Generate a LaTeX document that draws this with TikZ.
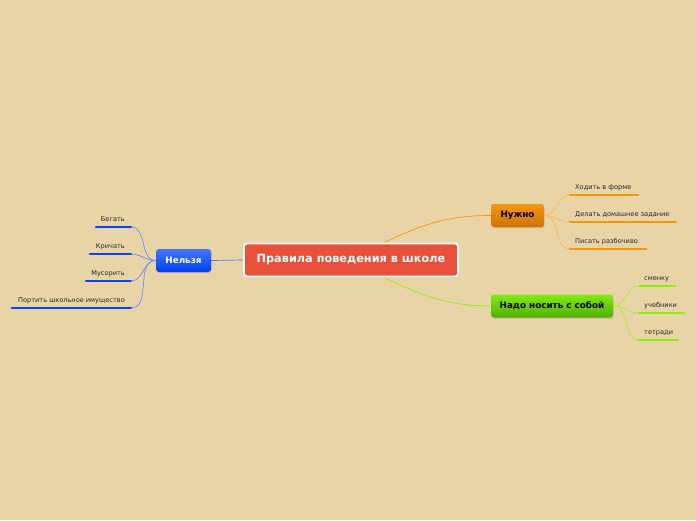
\documentclass[tikz,border=0pt]{standalone}
\usepackage{fontspec}
\setmainfont{DejaVu Sans}
\usetikzlibrary{shadows}
\definecolor{bg}{RGB}{233,212,168}
\definecolor{cred}{RGB}{232,80,58}
\definecolor{cblueT}{RGB}{70,120,255}
\definecolor{cblueB}{RGB}{0,62,240}
\definecolor{corT}{RGB}{245,150,20}
\definecolor{corB}{RGB}{205,115,0}
\definecolor{cgrT}{RGB}{130,235,20}
\definecolor{cgrB}{RGB}{80,175,0}
\definecolor{lblue}{RGB}{0,68,255}
\definecolor{lor}{RGB}{255,150,0}
\definecolor{lgr}{RGB}{140,238,0}
\definecolor{ctext}{RGB}{40,40,40}
\begin{document}
\begin{tikzpicture}[x=1pt,y=-1pt,
  mainbox/.style={draw=white,line width=1.8pt,fill=cred,rounded corners=3pt,
    minimum width=214pt,minimum height=33pt,text=white,font=\bfseries\fontsize{11.3}{13}\selectfont,
    drop shadow={shadow xshift=0.6pt,shadow yshift=-1.2pt,opacity=0.3}},
  subbox/.style={rounded corners=3pt,minimum height=23pt,inner xsep=6pt,
    font=\bfseries\fontsize{8.8}{10}\selectfont,
    drop shadow={shadow xshift=0.6pt,shadow yshift=-1.2pt,opacity=0.35}},
  leaftext/.style={font=\fontsize{6.6}{8}\selectfont,text=ctext,inner sep=0pt},
  bar/.style={line width=2.6pt,line cap=round},
  conn/.style={line width=0.7pt}]
\fill[bg] (0,0) rectangle (696,520);
\useasboundingbox (0,0) rectangle (696,520);

% central
\node[mainbox] (c) at (351,260) {Правила поведения в школе};
\node[subbox,top color=cblueT,bottom color=cblueB,text=white,minimum width=55pt] (n) at (183.5,260.5) {Нельзя};
\node[subbox,top color=corT,bottom color=corB,text=black,minimum width=53pt] (u) at (517.5,215.5) {Нужно};
\node[subbox,top color=cgrT,bottom color=cgrB,text=black,minimum width=122pt] (g) at (552,306) {Надо носить с собой};

\coordinate (cu) at (385,242);
\coordinate (cg) at (385,278);
\draw[conn,lblue!70] (c.west) -- (n.east);
\draw[conn,lor] (cu) to[out=25,in=180] (u.west);
\draw[conn,lgr] (cg) to[out=-25,in=180] (g.west);

% Нельзя leaves
\foreach \name/\txt/\y/\xl in {n1/Бегать/227/96, n2/Кричать/254/90, n3/Мусорить/281/86, n4/Портить школьное имущество/308/12}{
  \coordinate (\name e) at (131,\y);
  \coordinate (\name s) at (\xl,\y);
  \draw[bar,lblue] (\name s) -- (\name e);
  \node[leaftext,anchor=base east] (\name) at (125,\y-6) {\txt};
  \draw[conn,lblue!60] (n.west) to[out=180,in=0] (\name e);
}

% Нужно leaves
\foreach \name/\txt/\y/\xr in {u1/Ходить в форме/195/638, u2/Делать домашнее задание/222/676, u3/Писать разбочиво/249/646}{
  \coordinate (\name s) at (570,\y);
  \coordinate (\name e) at (\xr,\y);
  \draw[bar,lor] (\name s) -- (\name e);
  \node[leaftext,anchor=base west] (\name) at (575,\y-6) {\txt};
  \draw[conn,lor!70] (u.east) to[out=0,in=180] (\name s);
}

% Надо leaves
\foreach \name/\txt/\y/\xr in {g1/сменку/286/675, g2/учебники/313/684, g3/тетради/340/678}{
  \coordinate (\name s) at (639,\y);
  \coordinate (\name e) at (\xr,\y);
  \draw[bar,lgr] (\name s) -- (\name e);
  \node[leaftext,anchor=base west] (\name) at (644,\y-6) {\txt};
  \draw[conn,lgr!80] (g.east) to[out=0,in=180] (\name s);
}
\end{tikzpicture}
\end{document}
